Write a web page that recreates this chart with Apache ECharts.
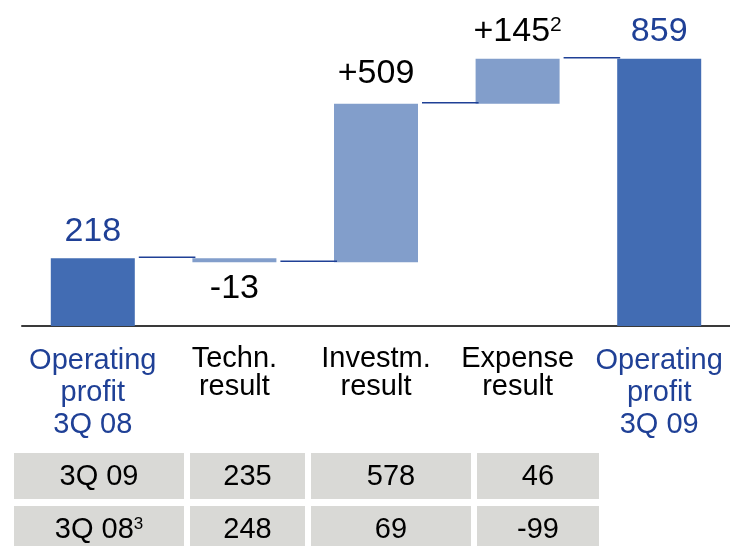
<!DOCTYPE html>
<html>
<head>
<meta charset="utf-8">
<script src="https://cdn.jsdelivr.net/npm/echarts@6/dist/echarts.min.js"></script>
<style>
  html, body { margin: 0; padding: 0; background: #fff; }
  #chart { width: 730px; height: 546px; }
</style>
</head>
<body>
<div id="chart"></div>
<script>
// waterfall data
const categories = ['Operating\nprofit\n3Q 08', 'Techn.\nresult', 'Investm.\nresult', 'Expense\nresult', 'Operating\nprofit\n3Q 09']
const startValue = 218
const deltas = [-13, 509, 145]
const deltaNotes = ['', '', '2']
const endValue = 859

// table below the chart
const tableRows = ['3Q 09', '3Q 08']
const rowNotes = ['', '3']
const row3Q09 = [235, 578, 46]
const row3Q08 = [248, 69, -99]

const FONT = 'Liberation Sans, Arial, sans-serif'
const DARK = '#426CB3'
const LIGHT = '#829ECB'
const BLUE_TXT = '#1F4096'
const BAR_W = 84
const COL_W = [170, 115, 160, 122]
const COL_GAP = 6
const TABLE_TOP = 453
const ROW_PITCH = 53
const CELL_H = 46

// build stacked (invisible base + visible part) from the deltas
const base = [0]
const shown = [startValue]
const levels = [startValue]
let level = startValue
deltas.forEach(d => {
  base.push(d < 0 ? level + d : level)
  shown.push(Math.abs(d))
  level += d
  levels.push(level)
})
base.push(0)
shown.push(endValue)

const shownData = shown.map((v, i) => {
  const isTotal = i === 0 || i === shown.length - 1
  if (isTotal) {
    return {
      value: v,
      itemStyle: { color: DARK },
      label: { show: true, position: 'top', distance: 10, formatter: '{t|' + v + '}' }
    }
  }
  const d = deltas[i - 1]
  const note = deltaNotes[i - 1]
  const txt = '{m|' + (d > 0 ? '+' : '') + d + '}' + (note ? '{s|' + note + '}' : '')
  return {
    value: v,
    itemStyle: { color: LIGHT },
    label: {
      show: true,
      position: d < 0 ? 'bottom' : 'top',
      distance: d < 0 ? 9 : (i === 2 ? 13 : 10),
      formatter: txt
    }
  }
})

const tableData = []
const tableValues = [row3Q09, row3Q08]
tableRows.forEach((r, ri) => {
  tableData.push([0, ri])
  tableValues[ri].forEach((v, ci) => tableData.push([ci + 1, ri]))
})

const chart = echarts.init(document.getElementById('chart'))

const option = {
  animation: false,
  textStyle: { fontFamily: FONT },
  grid: [
    { left: 22, right: -3, top: 46, bottom: 220 },
    { left: 14, width: 585, top: TABLE_TOP, bottom: 0 }
  ],
  xAxis: [
    {
      type: 'category',
      data: categories,
      gridIndex: 0,
      axisTick: { show: false },
      axisLine: { lineStyle: { color: '#3a3a3a', width: 2 } },
      axisLabel: {
        interval: 0,
        margin: 19,
        formatter: (val, idx) => {
          const tag = (idx === 0 || idx === categories.length - 1) ? 'b' : 'k'
          return val.split('\n').map(l => '{' + tag + '|' + l + '}').join('\n')
        },
        rich: {
          b: { fontSize: 29, lineHeight: 32, color: BLUE_TXT, fontFamily: FONT },
          k: { fontSize: 29, lineHeight: 28, color: '#000', fontFamily: FONT }
        }
      }
    },
    { type: 'value', gridIndex: 1, min: 0, max: 585, show: false }
  ],
  yAxis: [
    { type: 'value', gridIndex: 0, min: 0, max: 900, show: false, splitLine: { show: false } },
    // row units: row r spans r..r+1
    { type: 'value', gridIndex: 1, min: 0, max: (546 - TABLE_TOP) / ROW_PITCH, inverse: true, show: false, splitLine: { show: false } }
  ],
  series: [
    {
      type: 'bar',
      stack: 'wf',
      barWidth: BAR_W,
      silent: true,
      itemStyle: { color: 'transparent' },
      data: base
    },
    {
      type: 'bar',
      stack: 'wf',
      barWidth: BAR_W,
      data: shownData,
      label: {
        rich: {
          t: { fontSize: 34, color: BLUE_TXT, fontFamily: FONT },
          m: { fontSize: 34, color: '#000', fontFamily: FONT },
          s: { fontSize: 21, color: '#000', fontFamily: FONT, verticalAlign: 'top' }
        }
      }
    },
    {
      // connector lines between bars
      type: 'custom',
      silent: true,
      data: levels.map((v, i) => [i, v]),
      renderItem: (params, api) => {
        const i = api.value(0)
        const v = api.value(1)
        const p0 = api.coord([i, v])
        const p1 = api.coord([i + 1, v])
        return {
          type: 'line',
          shape: { x1: p0[0] + BAR_W / 2 + 4, y1: p0[1] - 1, x2: p1[0] - BAR_W / 2 + 3, y2: p0[1] - 1 },
          style: { stroke: BLUE_TXT, lineWidth: 1.5 }
        }
      },
      z: 3
    },
    {
      // table cells
      type: 'custom',
      xAxisIndex: 1,
      yAxisIndex: 1,
      silent: true,
      clip: false,
      data: tableData,
      renderItem: (params, api) => {
        const c = api.value(0)
        const r = api.value(1)
        let x0 = 0
        for (let k = 0; k < c; k++) x0 += COL_W[k] + COL_GAP
        const p0 = api.coord([x0, r])
        const p1 = api.coord([x0 + COL_W[c], r + CELL_H / ROW_PITCH])
        const top = p0[1]
        const h = p1[1] - p0[1]
        let text
        if (c === 0) {
          text = '{m|' + tableRows[r] + '}' + (rowNotes[r] ? '{s|' + rowNotes[r] + '}' : '')
        } else {
          text = '{m|' + tableValues[r][c - 1] + '}'
        }
        return {
          type: 'group',
          children: [
            { type: 'rect', shape: { x: p0[0], y: top, width: p1[0] - p0[0], height: h }, style: { fill: '#D9D9D6' } },
            {
              type: 'text',
              style: {
                x: (p0[0] + p1[0]) / 2,
                y: top + h / 2 + 1,
                text: text,
                align: 'center',
                verticalAlign: 'middle',
                rich: {
                  m: { fontSize: 29, fill: '#000', fontFamily: FONT },
                  s: { fontSize: 17, fill: '#000', fontFamily: FONT, verticalAlign: 'top' }
                }
              }
            }
          ]
        }
      }
    }
  ]
}

chart.setOption(option)
</script>
</body>
</html>
